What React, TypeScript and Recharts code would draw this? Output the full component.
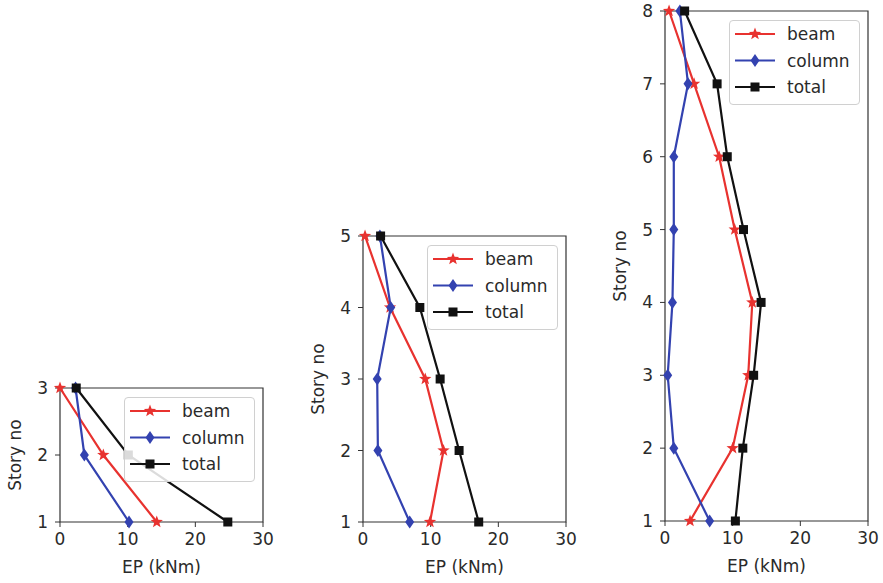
import React from "react";
import { LineChart, Line, XAxis, YAxis, ReferenceArea, Legend } from "recharts";

// x axis ticks shared by all three panels
const xTicks = [0, 10, 20, 30];

// 3-story frame
const stories3 = [1, 2, 3];
const beam3 = [14.3, 6.4, 0];
const column3 = [10.2, 3.6, 2.3];
const total3 = [24.8, 10.1, 2.4];

// 5-story frame
const stories5 = [1, 2, 3, 4, 5];
const beam5 = [9.9, 11.9, 9.2, 4.0, 0.3];
const column5 = [6.9, 2.2, 2.1, 4.1, 2.5];
const total5 = [17.1, 14.2, 11.4, 8.4, 2.6];

// 8-story frame
const stories8 = [1, 2, 3, 4, 5, 6, 7, 8];
const beam8 = [3.7, 10.0, 12.3, 12.9, 10.3, 8.0, 4.3, 0.6];
const column8 = [6.6, 1.3, 0.4, 1.1, 1.3, 1.3, 3.4, 2.2];
const total8 = [10.4, 11.5, 13.1, 14.2, 11.6, 9.2, 7.7, 2.9];

type Shape = "star" | "diamond" | "square";

const series: { key: string; name: string; color: string; marker: Shape }[] = [
  { key: "beam", name: "beam", color: "#e8322f", marker: "star" },
  { key: "column", name: "column", color: "#3342b0", marker: "diamond" },
  { key: "total", name: "total", color: "#111111", marker: "square" },
];

const FONT = "'DejaVu Sans', sans-serif";
const FS = 17;
const AXIS = "#333333";
const TEXT = "#2a2a2a";

function Marker({ shape, cx, cy, color }: { shape: Shape; cx: number; cy: number; color: string }) {
  if (cx == null || cy == null) return null;
  if (shape === "square") {
    return <rect x={cx - 4.5} y={cy - 4.5} width={9} height={9} fill={color} />;
  }
  if (shape === "diamond") {
    const w = 4.5;
    const h = 6.5;
    return (
      <path
        d={`M${cx},${cy - h} L${cx + w},${cy} L${cx},${cy + h} L${cx - w},${cy} Z`}
        fill={color}
      />
    );
  }
  // star
  const pts: string[] = [];
  for (let i = 0; i < 10; i++) {
    const r = i % 2 === 0 ? 6.5 : 2.7;
    const a = -Math.PI / 2 + (i * Math.PI) / 5;
    pts.push(`${cx + r * Math.cos(a)},${cy + r * Math.sin(a)}`);
  }
  return <polygon points={pts.join(" ")} fill={color} />;
}

const renderLegend = () => (
  <div
    style={{
      width: 131,
      height: 85,
      boxSizing: "border-box",
      border: "1px solid #d0d0d0",
      borderRadius: 4,
      background: "rgba(255,255,255,0.85)",
    }}
  >
    <svg width={129} height={83}>
      {series.map((s, i) => {
        const y = 13 + i * 26.5;
        return (
          <g key={s.key}>
            <line x1={5} x2={45} y1={y} y2={y} stroke={s.color} strokeWidth={2.2} />
            <Marker shape={s.marker} cx={25} cy={y} color={s.color} />
            <text
              x={57}
              y={y}
              dominantBaseline="central"
              fontSize={FS}
              fontFamily={FONT}
              fill={TEXT}
            >
              {s.name}
            </text>
          </g>
        );
      })}
    </svg>
  </div>
);

const PLOT_W = 203;
const M_TOP = 12;
const Y_W = 60;
const X_H = 61;

function StoryChart({
  stories,
  beam,
  column,
  total,
  left,
  top,
  plotH,
}: {
  stories: number[];
  beam: number[];
  column: number[];
  total: number[];
  left: number;
  top: number;
  plotH: number;
}) {
  const data = stories.map((s, i) => ({ story: s, beam: beam[i], column: column[i], total: total[i] }));
  const n = stories[stories.length - 1];
  const width = Y_W + PLOT_W + 20;
  const height = M_TOP + plotH + X_H;

  return (
    <div style={{ position: "absolute", left, top, width, height }}>
      <LineChart
        width={width}
        height={height}
        data={data}
        layout="vertical"
        margin={{ top: M_TOP, right: 20, bottom: 0, left: 0 }}
      >
        <ReferenceArea
          x1={0}
          x2={30}
          y1={1}
          y2={n}
          fill="none"
          stroke={AXIS}
          strokeWidth={1.2}
          ifOverflow="visible"
        />
        <XAxis
          type="number"
          domain={[0, 30]}
          ticks={xTicks}
          height={X_H}
          axisLine={false}
          tickLine={{ stroke: AXIS }}
          tickSize={5}
          tickMargin={6}
          tick={{ fontSize: FS, fill: TEXT, fontFamily: FONT }}
          label={() => (
            <text
              x={Y_W + PLOT_W / 2}
              y={M_TOP + plotH + 45}
              textAnchor="middle"
              dominantBaseline="central"
              fontSize={FS}
              fontFamily={FONT}
              fill={TEXT}
            >
              EP (kNm)
            </text>
          )}
        />
        <YAxis
          type="number"
          dataKey="story"
          domain={[1, n]}
          ticks={stories}
          reversed
          width={Y_W}
          axisLine={false}
          tickLine={{ stroke: AXIS }}
          tickSize={5}
          tickMargin={7}
          tick={{ fontSize: FS, fill: TEXT, fontFamily: FONT }}
          label={() => (
            <text
              x={15}
              y={M_TOP + plotH / 2}
              textAnchor="middle"
              dominantBaseline="central"
              fontSize={FS}
              fontFamily={FONT}
              fill={TEXT}
              transform={`rotate(-90 15 ${M_TOP + plotH / 2})`}
            >
              Story no
            </text>
          )}
        />
        {series.map((s) => (
          <Line
            key={s.key}
            dataKey={s.key}
            name={s.name}
            stroke={s.color}
            strokeWidth={2.2}
            isAnimationActive={false}
            dot={(p: any) => (
              <Marker key={`${s.key}-${p.index}`} shape={s.marker} cx={p.cx} cy={p.cy} color={s.color} />
            )}
            activeDot={false}
          />
        ))}
        <Legend
          layout="vertical"
          align="center"
          verticalAlign="middle"
          content={renderLegend}
          wrapperStyle={{ left: Y_W + PLOT_W - 8 - 131, top: M_TOP + 9, width: 131, height: 85 }}
        />
      </LineChart>
    </div>
  );
}

export default function App() {
  return (
    <div style={{ position: "absolute", left: 0, top: 0, width: 883, height: 583, background: "#fff", fontFamily: FONT }}>
      <StoryChart stories={stories3} beam={beam3} column={column3} total={total3} left={0} top={376} plotH={134} />
      <StoryChart stories={stories5} beam={beam5} column={column5} total={total5} left={303} top={224} plotH={286} />
      <StoryChart stories={stories8} beam={beam8} column={column8} total={total8} left={605} top={-1} plotH={510} />
    </div>
  );
}
